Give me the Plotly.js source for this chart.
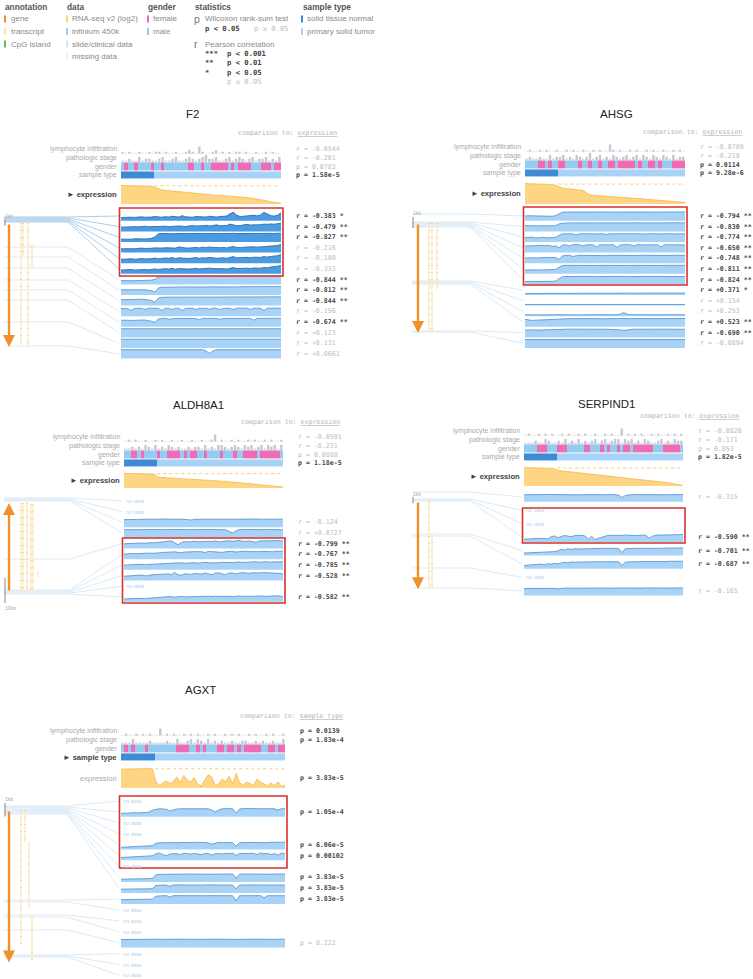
<!DOCTYPE html>
<html><head><meta charset="utf-8">
<script src="https://cdn.plot.ly/plotly-3.0.1.min.js"></script>
<style>html,body{margin:0;padding:0;background:#fff}#chart{width:753px;height:979px}</style>
</head><body><div id="chart"></div>
<script>
const W=753,H=979,NS=48;
// ---------- shared data ----------
const sampleType=[0,0,0,0,0,0,0,0,0,0, 1,1,1,1,1,1,1,1,1,1, 1,1,1,1,1,1,1,1,1,1, 1,1,1,1,1,1,1,1,1,1, 1,1,1,1,1,1,1,1];
// ---------- F2 ----------
const f2Gender=[0,1,0,0,1,0,0,0,0,1, 0,0,1,0,0,0,0,0,0,0, 1,1,0,0,1,0,0,1,1,1, 1,1,0,1,0,1,1,1,1,0, 0,0,1,1,1,0,1,1];
const f2Lymph=[1,0,1,0,0,1,0,0,1,0, 1,1,0,1,0,0,1,0,0,1, 2,1,0,4,1,0,0,1,2,0, 1,0,1,0,1,1,0,1,0,0, 1,0,0,1,0,1,0,0];
const f2Stage=[1,1,2,1,1,3,1,2,2,1, 1,2,3,1,1,2,3,1,1,2, 3,2,1,2,3,4,2,2,3,1, 1,2,3,1,2,3,2,1,2,3, 1,2,2,3,1,2,1,3];
const f2Expr=[1.00,1.00,0.99,0.99,0.99,0.98,0.98,0.98,0.97,0.97, 0.90,0.83,0.77,0.74,0.72,0.70,0.68,0.66,0.64,0.62, 0.60,0.58,0.56,0.55,0.53,0.52,0.50,0.49,0.48,0.47, 0.46,0.45,0.43,0.42,0.41,0.39,0.37,0.35,0.33,0.30, 0.27,0.24,0.20,0.15,0.12,0.10,0.07,0.04];
const f2HeadStats=['r = -0.0544','r = -0.201','p = 0.0783','p = 1.58e-5'];
const f2Meth=[
[35,38,40,38,36,40,42,38,36,40, 45,40,38,44,40,48,42,40,55,42, 40,38,45,42,44,40,48,42,40,45, 44,50,75,92,60,45,48,50,55,60, 52,62,90,70,55,50,60,85],
[45,48,50,52,50,48,52,55,50,52, 55,58,52,55,50,55,60,58,55,52, 58,62,58,55,60,65,58,62,70,60, 58,62,78,65,60,62,70,75,68,65, 70,72,78,75,80,76,78,88],
[30,28,32,30,35,33,30,32,35,40, 55,88,90,92,90,88,90,92,90,91, 90,92,90,89,91,90,92,90,91,90, 92,91,90,92,90,91,92,90,91,92, 91,90,92,93,92,91,92,94],
[40,42,45,42,40,45,48,44,42,46, 50,45,48,52,50,55,48,60,52,50, 48,52,55,50,58,52,60,55,50,52, 55,50,58,65,55,52,58,60,55,62, 58,60,65,62,68,70,75,90],
[42,40,44,48,42,45,50,46,44,48, 55,48,50,56,52,60,50,58,55,52, 50,55,60,52,58,55,62,58,52,55, 58,52,60,70,58,55,60,62,58,64, 60,62,70,65,72,75,80,92],
[40,44,42,46,40,44,48,45,42,46, 52,46,50,55,50,58,48,56,54,50, 50,54,58,52,56,52,60,56,52,54, 56,50,58,66,56,54,58,60,56,62, 58,60,66,64,72,74,80,90],
[40,42,40,38,40,42,38,40,42,45, 55,80,82,84,83,85,84,85,86,84, 85,86,85,84,86,85,86,87,85,86, 87,86,85,87,86,88,86,87,88,86, 87,88,87,89,88,87,88,89],
[55,56,55,54,56,55,54,56,50,45, 30,75,82,84,85,84,86,85,86,85, 86,87,86,85,86,84,87,86,87,86, 85,86,87,86,87,88,86,87,86,88, 87,88,87,88,89,88,89,90],
[62,64,65,66,64,66,68,66,60,55, 35,80,88,90,90,89,91,90,90,91, 90,91,92,91,90,91,92,91,92,91, 92,91,90,92,91,92,91,92,93,92, 91,92,93,92,93,92,93,93],
[82,84,80,60,82,84,85,70,84,85, 83,84,60,84,85,70,85,84,60,85, 84,86,70,85,84,85,72,86,85,70, 84,86,85,70,86,85,84,86,70,85, 86,84,60,85,86,84,86,85],
[70,72,70,68,70,72,70,72,65,60, 45,85,88,90,80,88,90,89,88,90, 89,90,88,75,90,89,90,88,90,78, 90,89,90,88,89,90,91,89,90,70, 90,89,91,90,90,91,90,91],
[92,92,93,92,92,93,92,92,93,92, 93,92,93,92,93,92,93,93,92,93, 92,93,92,93,93,92,93,92,93,92, 93,93,92,93,92,93,92,93,92,93, 93,92,93,92,93,92,93,92],
[93,93,92,93,93,92,93,93,92,93, 93,93,90,93,93,92,93,93,92,93, 90,93,93,92,93,93,92,93,93,92, 93,93,92,93,93,90,93,92,93,93, 92,93,93,92,93,93,92,93],
[95,95,95,95,95,95,95,95,95,95, 95,95,95,95,95,95,95,95,95,95, 95,95,95,95,95,80,55,80,95,95, 95,95,95,95,95,95,95,95,95,95, 95,95,95,95,95,95,95,95]];
const f2Stats=['r = -0.383 *','r = -0.479 **','r = -0.827 **','r = -0.216','r = -0.189','r = -0.333','r = -0.844 **','r = -0.812 **','r = -0.844 **','r = -0.156','r = -0.674 **','r = +0.123','r = +0.131','r = +0.0661'];
const f2ProbeKb=[-0.97,-0.81,-0.65,-0.48,-0.32,-0.16,3.87,5.48,7.26,9.19,10.81,12.42,15.97,19.84];
const f2Gene={start:0,end:20,strand:1};
const f2Tx=[[0,20],[0,5.5],[0,20],[3.5,7.0]];
// ---------- AHSG ----------
const ahsgGender=[0,0,0,0,1,1,0,1,0,0, 1,1,0,0,0,0,1,0,0,1, 0,0,1,0,0,1,1,0,1,1, 1,1,1,0,1,0,0,1,1,0, 1,0,0,0,1,1,1,1];
const ahsgLymph=[0,1,0,0,1,0,1,0,0,1, 0,0,1,0,1,0,0,1,0,0, 1,0,1,0,0,4,1,0,1,0, 0,1,0,1,0,0,1,0,1,0, 0,1,0,0,1,0,1,0];
const ahsgStage=[1,2,1,1,2,1,1,3,1,2, 2,3,1,2,1,3,2,1,2,4, 1,2,3,1,2,1,3,2,1,2, 3,1,2,3,1,3,2,1,3,2, 1,3,2,1,3,1,2,2];
const ahsgExpr=[1.00,1.00,1.00,0.99,0.99,0.98,0.97,0.96,0.95,0.93, 0.84,0.78,0.76,0.75,0.73,0.71,0.69,0.67,0.55,0.45, 0.43,0.42,0.41,0.40,0.39,0.38,0.37,0.36,0.35,0.34, 0.33,0.32,0.30,0.28,0.26,0.24,0.22,0.21,0.19,0.18, 0.17,0.16,0.15,0.14,0.12,0.10,0.09,0.08];
const ahsgHeadStats=['r = -0.0789','r = -0.219','p = 0.0114','p = 9.28e-6'];
const ahsgMeth=[
[52,55,54,52,50,48,52,50,48,55, 75,92,93,92,94,93,92,94,93,92, 93,94,93,92,93,92,93,94,93,92, 93,94,92,93,92,94,93,92,93,94, 93,92,93,94,93,92,94,93],
[62,60,62,60,58,60,62,60,58,62, 80,88,90,90,91,90,89,90,91,90, 91,90,90,89,90,91,90,90,91,90, 90,91,90,90,91,90,89,90,91,90, 90,91,90,90,91,90,90,91],
[45,48,52,45,42,50,46,44,48,50, 70,88,86,88,87,75,88,87,88,86, 88,87,88,86,80,88,87,88,87,88, 86,88,87,88,87,85,88,87,88,86, 88,87,88,86,88,87,88,87],
[70,72,75,72,74,76,75,78,65,72, 50,80,82,70,84,82,84,70,82,84, 82,60,84,82,84,82,84,55,82,84, 82,84,70,84,82,84,82,84,83,84, 60,84,82,84,82,84,82,80],
[55,58,60,58,56,60,62,60,58,60, 40,78,82,84,72,82,84,83,82,84, 83,82,84,82,80,84,83,82,84,83, 82,84,83,82,84,83,82,84,83,82, 84,83,82,84,83,82,84,83],
[40,42,40,42,40,42,40,42,44,46, 70,88,90,89,90,89,90,89,90,89, 90,89,90,89,88,90,89,90,89,90, 89,90,89,90,89,90,89,90,89,90, 89,90,89,90,89,90,89,90],
[30,32,30,32,30,32,30,32,33,35, 60,82,84,85,84,85,84,85,84,86, 85,84,85,84,85,86,85,84,85,84, 85,84,85,86,85,84,85,84,85,84, 85,84,85,84,85,84,85,84],
[15,16,15,16,17,16,15,16,17,16, 18,17,18,17,18,19,18,17,18,19, 18,19,18,19,18,19,20,19,18,19, 20,19,20,19,20,21,20,19,20,21, 20,21,20,21,20,21,22,21],
[12,12,13,12,12,13,12,12,13,12, 13,12,13,12,13,12,13,13,12,13, 12,13,12,13,13,12,13,12,13,12, 13,13,12,13,12,13,12,13,12,13, 13,12,13,12,13,12,13,12],
[15,14,16,15,14,17,15,14,16,15, 16,15,14,16,15,17,15,14,16,15, 16,15,14,16,15,17,15,16,22,38, 22,16,15,16,15,14,16,15,17,16, 15,16,15,14,16,17,16,15],
[80,70,68,70,72,70,74,78,80,82, 85,86,87,86,88,87,88,87,86,88, 87,88,87,86,88,87,88,87,88,86, 88,87,88,87,86,88,87,88,87,88, 87,88,87,88,86,88,87,88],
[78,80,79,80,78,80,82,80,82,84, 86,88,87,88,87,88,87,88,87,88, 87,88,87,88,87,88,87,86,80,75, 82,87,88,87,88,87,88,87,88,87, 88,87,88,87,88,87,88,87],
[90,90,91,90,90,91,90,90,91,90, 91,90,91,90,91,90,91,91,90,91, 90,91,90,91,91,90,91,90,91,90, 91,91,90,91,90,91,90,91,90,91, 91,90,91,90,91,90,91,90]];
const ahsgStats=['r = -0.794 **','r = -0.830 **','r = -0.774 **','r = -0.650 **','r = -0.748 **','r = -0.811 **','r = -0.824 **','r = +0.371 *','r = +0.154','r = +0.253','r = +0.523 **','r = -0.690 **','r = -0.0894'];
const ahsgProbeKb=[-0.82,-0.09,0,0.09,0.18,0.27,0.36,5.27,5.36,5.45,5.55,9.82,9.91];
const ahsgGene={start:0,end:10,strand:1};
const ahsgTx=[[0,10],[0,10],[0,6.1]];
// ---------- ALDH8A1 ----------
const aldhGender=[0,0,1,1,0,1,0,0,0,0, 1,0,0,1,1,1,1,0,1,0, 1,1,0,0,1,0,0,0,0,1, 0,0,0,1,0,0,1,1,1,1, 0,1,1,1,1,1,1,0];
const aldhLymph=[0,1,0,1,0,0,1,0,0,1, 0,1,0,0,1,0,0,1,0,0, 1,0,0,1,0,0,1,4,0,1, 0,0,1,0,1,0,0,1,0,1, 0,0,1,0,1,0,0,1];
const aldhStage=[1,1,2,1,2,1,3,2,1,3, 1,2,1,3,2,1,2,1,1,2, 1,2,2,1,3,1,2,1,3,3, 2,1,2,3,2,1,3,2,3,1, 2,3,1,3,2,3,1,3];
const aldhExpr=[0.97,0.97,0.97,0.97,0.96,0.96,0.96,0.95,0.95,0.94, 0.72,0.70,0.69,0.67,0.66,0.64,0.63,0.62,0.60,0.59, 0.58,0.56,0.55,0.54,0.52,0.51,0.50,0.48,0.47,0.45, 0.44,0.42,0.40,0.39,0.37,0.35,0.33,0.31,0.29,0.27, 0.25,0.23,0.21,0.19,0.16,0.13,0.10,0.07];
const aldhHeadStats=['r = -0.0591','r = -0.231','p = 0.0888','p = 1.18e-5'];
const aldhMeth=[null,null,
[80,82,84,82,80,84,85,84,82,80, 84,86,84,82,85,84,83,85,84,82, 76,84,85,86,85,84,85,84,83,85, 84,85,86,84,85,84,86,85,84,85, 86,84,85,86,85,84,86,84],
[86,87,88,87,88,87,88,87,88,87, 88,87,88,87,88,87,88,87,88,87, 88,87,88,87,88,87,88,87,88,87, 86,70,52,72,87,88,87,88,87,88, 87,88,87,88,87,88,87,86],
[50,52,55,53,55,58,55,60,62,60, 65,70,68,75,80,60,40,65,72,70, 74,76,72,75,78,76,72,80,70,74, 78,82,76,80,85,78,75,80,72,65, 80,82,84,80,82,84,82,80],
[55,58,56,60,58,62,60,64,62,60, 65,70,72,68,75,78,72,70,76,78, 74,76,80,78,70,82,78,80,75,72, 78,80,84,76,80,82,85,80,78,82, 80,84,82,80,78,84,86,84],
[50,52,55,52,54,58,55,57,60,62, 60,65,68,70,72,68,74,75,70,72, 74,76,70,78,80,76,72,78,74,80, 82,78,76,80,84,78,82,80,84,86, 80,84,86,82,84,88,84,86],
[45,48,52,50,55,58,52,50,60,62, 56,60,65,70,62,85,60,55,72,70, 65,75,70,68,80,72,60,78,82,70, 62,78,80,70,76,85,80,75,82,78, 80,85,84,82,80,78,75,70],
null,
[30,32,35,33,36,38,35,37,40,42, 40,45,52,56,52,50,55,58,52,55, 58,60,56,58,62,60,56,62,58,60, 62,58,55,60,62,58,62,60,58,62, 60,62,58,62,60,65,62,55]];
const aldhStats=['','','r = -0.124','r = +0.0727','r = -0.799 **','r = -0.767 **','r = -0.785 **','r = -0.528 **','','r = -0.582 **'];
const aldhProbeKb=[-2.0,-1.6,-1.2,-0.8,22.4,34.8,35.2,35.6,36.0,36.4];
const aldhGene={start:0,end:35.6,strand:-1};
const aldhTx=[[0,35.6],[0,35.2],[0,35.6],[0.5,35.6],[0.5,35.6],[27.6,30.0]];
// ---------- SERPIND1 ----------
const serpGender=[0,0,0,0,1,1,1,0,0,0, 1,1,1,0,0,0,0,0,1,1, 0,0,0,1,0,1,0,0,1,0, 1,1,0,1,1,1,1,1,1,0, 0,0,1,1,1,1,1,0];
const serpLymph=[0,1,0,0,1,0,1,0,1,0, 0,1,0,1,0,0,1,0,1,0, 0,1,0,0,1,0,1,0,0,4, 0,1,0,1,0,1,0,0,1,0, 1,0,0,1,0,1,0,1];
const serpStage=[1,1,1,2,1,1,3,2,1,1, 2,1,3,1,2,1,3,1,2,1, 2,3,1,2,3,1,2,3,3,1, 3,2,3,1,2,1,3,2,1,1, 2,3,1,2,1,3,2,2];
const serpExpr=[1.00,1.00,0.99,0.99,0.99,0.98,0.98,0.97,0.96,0.95, 0.84,0.82,0.80,0.79,0.77,0.76,0.74,0.72,0.71,0.69, 0.67,0.65,0.63,0.61,0.59,0.57,0.55,0.53,0.51,0.49, 0.47,0.45,0.43,0.41,0.39,0.37,0.35,0.33,0.31,0.28, 0.25,0.22,0.19,0.16,0.13,0.10,0.06,0.03];
const serpHeadStats=['r = -0.0820','r = -0.171','p = 0.053','p = 1.82e-5'];
const serpMeth=[
[75,74,76,75,74,76,78,77,76,75, 74,76,75,77,76,75,74,76,77,76, 75,76,77,76,75,76,77,76,70,45, 68,76,77,76,75,76,77,76,75,76, 77,76,75,76,77,76,75,76],
null,null,
[30,32,35,33,36,40,35,34,55,65, 45,60,70,62,58,68,72,70,65,30, 60,25,40,50,68,72,70,68,72,70, 75,72,70,68,72,74,72,40,62,72, 74,76,75,77,76,78,78,80],
[25,26,28,30,28,32,30,35,38,40, 48,65,55,70,62,72,68,70,72,70, 74,72,73,75,74,76,74,75,70,30, 72,74,76,75,74,76,75,77,76,75, 76,77,76,78,77,78,79,80],
[35,38,40,45,40,50,42,55,48,60, 52,62,70,65,72,70,74,72,73,75, 74,76,75,74,76,75,77,76,74,35, 72,75,76,77,76,78,77,76,78,77, 78,79,78,80,79,80,79,80],
null,
[75,76,78,77,76,78,80,79,78,77, 72,78,80,79,78,80,79,81,80,79, 80,79,81,80,82,81,80,79,81,80, 82,81,80,82,81,80,82,81,82,80, 81,82,81,80,82,81,82,81]];
const serpStats=['r = -0.315','','','r = -0.590 **','r = -0.701 **','r = -0.687 **','','r = -0.165'];
const serpProbeKb=[-1.43,-0.32,-0.16,0,5.24,5.56,10.63,13.81];
const serpGene={start:0,end:14,strand:1};
const serpTx=[[0,14],[5.4,14]];
// ---------- AGXT ----------
const agxtGender=[0,1,0,1,0,0,0,1,0,0, 0,0,0,0,0,0,1,1,1,1, 0,0,1,0,1,0,0,0,1,1, 0,1,1,0,1,0,1,1,1,1, 1,0,0,1,1,0,1,1];
const agxtLymph=[0,1,0,0,1,0,1,0,1,0, 0,4,0,1,0,1,0,0,1,0, 1,0,1,0,0,1,0,1,0,0, 1,0,1,0,1,0,0,1,0,1, 0,0,1,0,1,0,0,1];
const agxtStage=[1,1,1,3,1,1,1,1,2,1, 1,1,1,2,1,1,3,1,1,2, 3,1,3,2,1,3,1,2,1,2, 1,1,2,1,1,2,2,1,1,2, 1,2,1,1,2,1,1,3];
const agxtExpr=[0.93,0.94,0.94,0.95,0.95,0.95,0.95,0.96,0.96,0.96, 0.30,0.12,0.25,0.35,0.22,0.30,0.55,0.28,0.62,0.40, 0.30,0.52,0.18,0.10,0.40,0.65,0.55,0.12,0.20,0.45, 0.30,0.58,0.20,0.72,0.25,0.15,0.30,0.22,0.12,0.45, 0.30,0.20,0.12,0.25,0.10,0.30,0.08,0.15];
const agxtHeadStats=['p = 0.0139','p = 1.83e-4','',''];
const agxtExprStat='p = 3.83e-5';
const agxtMeth=[null,
[35,38,36,40,42,40,45,42,48,70, 80,85,82,80,60,75,82,84,85,84, 86,85,84,85,86,84,70,50,72,84, 86,85,84,40,82,86,85,84,86,85, 84,86,85,82,84,70,86,84],
null,null,
[22,25,28,24,30,32,35,36,38,40, 65,70,72,68,74,72,70,76,74,72, 70,74,76,74,72,70,55,65,74,72, 70,74,72,35,70,72,74,76,74,72, 70,74,72,76,74,72,76,78],
[30,32,35,30,36,38,40,42,45,48, 70,78,60,50,65,72,70,62,75,72, 65,74,70,60,72,75,55,70,72,65, 75,70,78,50,72,74,76,72,74,60, 78,70,74,60,72,55,78,70],
null,
[30,32,30,33,32,35,34,36,35,40, 78,85,84,82,86,85,84,86,85,84, 86,85,84,86,85,84,86,85,84,86, 85,84,86,40,84,86,85,84,86,85, 84,86,85,84,86,85,84,86],
[40,42,41,43,42,44,43,45,44,46, 80,86,85,84,70,86,85,84,86,85, 84,86,85,84,86,85,84,86,85,84, 86,85,84,45,85,84,86,85,84,86, 85,84,86,85,84,86,85,84],
[45,46,45,47,46,48,47,46,48,50, 82,88,87,88,72,88,87,88,87,88, 87,88,87,88,87,88,87,88,87,88, 87,88,87,30,88,87,88,87,88,87, 88,65,88,87,88,87,88,87],
null,null,null,
[85,86,85,86,87,86,85,86,87,86, 88,87,88,87,88,87,86,88,87,88, 87,88,87,88,87,88,87,88,87,88, 87,86,84,87,88,87,88,87,88,87, 88,87,88,87,88,87,88,87],
null,null,null];
const agxtStats=['','p = 1.05e-4','','','p = 6.06e-5','p = 0.00102','','p = 3.83e-5','p = 3.83e-5','p = 3.83e-5','','','','p = 0.222','','',''];
const agxtProbeKb=[-0.30,-0.22,-0.15,-0.07,0,0.07,0.15,0.22,0.30,6.67,6.81,7.78,7.93,8.89,10.74,10.81,10.89];
const agxtGene={start:0,end:11.3,strand:1};
const agxtTx=[[0,10],[0,2.4],[2.4,7.2],[7.9,11.3]];

// ---------- styling ----------
const FONT='Liberation Sans, Arial, sans-serif', MONO='DejaVu Sans Mono, monospace';
const C={gene:'#f0922b',tx:'#f7c965',txLight:'#fcebc2',cpg:'#5cbf4a',exprFill:'#fdd583',exprLine:'#f4b84c',
 mFill:'#a9d3f6',mLine:'#5b98d0',mDarkFill:'#4b9be3',mDarkLine:'#2d6db0',conn:'#d3e5f3',connDark:'#97c2e6',
 male:'#93cbf1',female:'#ee6cb5',normal:'#3e8ad5',tumor:'#a7d3f6',bar:'#c4c8d0',barLight:'#e2e5ea',box:'#d7312c'};

const traces=[],shapes=[],annotations=[];
const layout={width:W,height:H,margin:{l:0,r:0,t:0,b:0},paper_bgcolor:'#fff',plot_bgcolor:'rgba(0,0,0,0)',
 showlegend:false,barmode:'overlay',hovermode:false};
let axN=0;
function newAxes(L,R,T,B,xr,yr){
  axN++; const s=axN===1?'':String(axN);
  layout['xaxis'+s]={domain:[L/W,R/W],range:xr,visible:false,fixedrange:true,anchor:'y'+s};
  layout['yaxis'+s]={domain:[1-B/H,1-T/H],range:yr,visible:false,fixedrange:true,anchor:'x'+s};
  return {x:'x'+s,y:'y'+s};
}
function txt(x,y,text,font,o){annotations.push(Object.assign({x:x/W,y:1-y/H,xref:'paper',yref:'paper',text:text,showarrow:false,
  xanchor:'left',yanchor:'middle',borderpad:0,font:font},o||{}));}
function prect(x0,y0,x1,y1,color){shapes.push({type:'rect',xref:'paper',yref:'paper',x0:x0/W,x1:x1/W,y0:1-y1/H,y1:1-y0/H,fillcolor:color,line:{width:0}});}
function isSig(s){if(!s)return false; if(s[0]==='r')return s.indexOf('*')>=0; return parseFloat(s.split('=')[1])<0.05;}
function statFont(s){return {family:MONO,size:6.6,color:isSig(s)?'#444':'#bbb'};}
function statText(s){return isSig(s)?'<b>'+s+'</b>':s;}

// ---------- legend ----------
const LH={family:FONT,size:8.3,color:'#555'}, LI={family:FONT,size:8,color:'#8a8a8a'};
txt(4,7,'<b>annotation</b>',LH); txt(66,7,'<b>data</b>',LH); txt(147,7,'<b>gender</b>',LH);
txt(194,7,'<b>statistics</b>',LH); txt(302,7,'<b>sample type</b>',LH);
const legA=[['gene',C.gene],['transcript','#fbe3a8'],['CpG island',C.cpg]];
legA.forEach((it,k)=>{prect(4,15.5+k*12.5,6,22.5+k*12.5,it[1]); txt(10,19+k*12.5,it[0],LI);});
const legD=[['RNA-seq v2 (log2)','#fcd27d'],['infinium 450k','#a6d0f2'],['slide/clinical data','#d3e3f2'],['missing data','#f3f4f6']];
legD.forEach((it,k)=>{prect(66,15.5+k*12.5,68,22.5+k*12.5,it[1]); txt(71,19+k*12.5,it[0],LI);});
const legG=[['female',C.female],['male',C.male]];
legG.forEach((it,k)=>{prect(147,15.5+k*12.5,149,22.5+k*12.5,it[1]); txt(152,19+k*12.5,it[0],LI);});
const legS=[['solid tissue normal',C.normal],['primary solid tumor',C.tumor]];
legS.forEach((it,k)=>{prect(301,15.5+k*12.5,303,22.5+k*12.5,it[1]); txt(306,19+k*12.5,it[0],LI);});
const LM={family:MONO,size:7.2,color:'#444'}, LMg={family:MONO,size:7.2,color:'#c0c0c0'};
txt(193,19,'p',{family:FONT,size:10.5,color:'#777'}); txt(204,19,'Wilcoxon rank-sum test',LI);
txt(204,29,'<b>p < 0.05</b>',LM); txt(253,29,'p ≥ 0.05',LMg);
txt(193,44,'r',{family:FONT,size:10.5,color:'#777'}); txt(204,44,'Pearson correlation',LI);
[['***','p < 0.001'],['**','p < 0.01'],['*','p < 0.05']].forEach((r,k)=>{txt(204,53.5+k*9.3,'<b>'+r[0]+'</b>',LM); txt(226,53.5+k*9.3,'<b>'+r[1]+'</b>',LM);});
txt(226,81.5,'p ≥ 0.05',LMg);

// ---------- panels ----------
function addPanel(g,d){
  const cw=(g.trackR-g.trackL)/NS;
  const xi=d.gender.map((_,i)=>i);
  const xs=d.expr.map((_,i)=>-0.5+i*NS/(NS-1));
  txt(g.title[0],g.title[1],d.name,{family:FONT,size:11.5,color:'#222'},{xanchor:'center'});
  txt(g.cmp[0],g.cmp[1],'comparison to: <u>'+d.cmp+'</u>',{family:MONO,size:6.6,color:'#b3b3b3'},{xanchor:'right'});
  const hB=g.headTop+4*g.headRowH;
  const h=newAxes(g.trackL,g.trackR,g.headTop,hB,[-0.5,NS-0.5],[4,0]);
  traces.push({type:'bar',xaxis:h.x,yaxis:h.y,x:xi,base:xi.map(()=>1),y:d.lymph.map(v=>v>0?-v*0.21:-0.12),width:0.72,
    marker:{color:d.lymph.map(v=>v>0?C.bar:C.barLight),line:{width:0}}});
  traces.push({type:'bar',xaxis:h.x,yaxis:h.y,x:xi,base:xi.map(()=>2),y:d.stage.map(v=>-v*0.21),width:0.72,
    marker:{color:d.stage.map(v=>v>1?C.bar:'#d6d9df'),line:{width:0}}});
  traces.push({type:'heatmap',xaxis:h.x,yaxis:h.y,x:xi,y:[2.5,3.5],z:[d.gender,sampleType.map(v=>v+2)],zmin:0,zmax:3,ygap:1,
    showscale:false,colorscale:[[0,C.male],[0.2,C.male],[0.2,C.female],[0.5,C.female],[0.5,C.normal],[0.8,C.normal],[0.8,C.tumor],[1,C.tumor]]});
  const labs=['lymphocyte infiltration','pathologic stage','gender','sample type'];
  const LF={family:FONT,size:7,color:'#aaa'};
  labs.forEach((l,k)=>{
    const yy=g.headTop+(k+0.5)*g.headRowH;
    if(k===3&&d.cmp==='sample type') txt(g.trackL-3,yy+0.5,'<b>► sample type</b>',{family:FONT,size:7.6,color:'#444'},{xanchor:'right'});
    else txt(g.trackL-3,yy,l,LF,{xanchor:'right'});
    if(d.head[k]) txt(g.statX,yy,statText(d.head[k]),statFont(d.head[k]));
  });
  const emax=Math.max.apply(null,d.expr);
  const e=newAxes(g.trackL,g.trackR,g.expr[0],g.expr[1],[-0.5,NS-0.5],[0,emax*1.03]);
  traces.push({type:'scatter',mode:'lines',xaxis:e.x,yaxis:e.y,x:xs,y:d.expr,fill:'tozeroy',fillcolor:C.exprFill,line:{color:C.exprLine,width:0.8}});
  const normVals=d.expr.filter((v,i)=>sampleType[i]===0);
  const nm=normVals.reduce((a,b)=>a+b,0)/normVals.length;
  const nN=normVals.length;
  traces.push({type:'scatter',mode:'lines',xaxis:e.x,yaxis:e.y,x:[nN-0.5,NS-0.5],y:[nm,nm],line:{color:'#f7c865',width:0.9,dash:'3px,3px'}});
  const ey=(g.expr[0]+g.expr[1])/2;
  if(d.cmp==='expression') txt(g.trackL-3,ey,'<b>► expression</b>',{family:FONT,size:7.6,color:'#444'},{xanchor:'right'});
  else txt(g.trackL-3,ey,'expression',{family:FONT,size:7.6,color:'#aaa'},{xanchor:'right'});
  if(d.exprStat) txt(g.statX,ey,statText(d.exprStat),statFont(d.exprStat));
  const N=d.meth.length, rowTop=g.c0-g.rowH/2;
  const bT=rowTop-18, bB=Math.min(rowTop+N*g.rowH+18,H-1);
  const bL=Math.max(g.gLeft-3,0), bR=g.trackR+6;
  const bx=px=>-0.5+(px-g.trackL)/cw;
  const by=py=>(py-rowTop)/g.rowH;
  const gy=kb=>by(g.gTop+kb*g.ppk);
  const b=newAxes(bL,bR,bT,bB,[bx(bL),bx(bR)],[by(bB),by(bT)]);
  const cx=[],cy=[],dx=[],dy=[];
  d.probeKb.forEach((kb,i)=>{
    const dark=g.dark&&i>=g.boxRows[0]&&i<=g.boxRows[1];
    const X=dark?dx:cx, Y=dark?dy:cy;
    X.push(bx(g.gLeft),bx(g.bend),bx(g.trackL-2),null); Y.push(gy(kb),gy(kb),i+0.5,null);
  });
  traces.push({type:'scatter',mode:'lines',xaxis:b.x,yaxis:b.y,x:cx,y:cy,line:{color:C.conn,width:0.8}});
  if(dx.length) traces.push({type:'scatter',mode:'lines',xaxis:b.x,yaxis:b.y,x:dx,y:dy,line:{color:C.connDark,width:0.8}});
  const tx=[],ty=[];
  d.tx.forEach((t,k)=>{tx.push(bx(g.lanes[k]),bx(g.lanes[k]),null); ty.push(gy(t[0]),gy(t[1]),null);});
  traces.push({type:'scatter',mode:'lines',xaxis:b.x,yaxis:b.y,x:tx,y:ty,line:{color:C.txLight,width:1.2}});
  traces.push({type:'scatter',mode:'lines',xaxis:b.x,yaxis:b.y,x:tx,y:ty,line:{color:C.tx,width:1.2,dash:'1px,6px'}});
  const head=d.gene.strand>0?d.gene.end:d.gene.start, tail=d.gene.strand>0?d.gene.start:d.gene.end;
  annotations.push({xref:b.x,yref:b.y,axref:b.x,ayref:b.y,x:bx(g.geneX),y:gy(head),ax:bx(g.geneX),ay:gy(tail),
    text:'',showarrow:true,arrowhead:2,arrowsize:1,arrowwidth:2.4,arrowcolor:C.gene,standoff:0,startstandoff:0});
  traces.push({type:'scatter',mode:'lines',xaxis:b.x,yaxis:b.y,x:[bx(g.gLeft+1),bx(g.gLeft+1)],y:[gy(g.sc0),gy(g.sc0+d.scaleKb)],line:{color:'#888',width:1}});
  const scTop=g.gTop+g.sc0*g.ppk, scBot=g.gTop+(g.sc0+d.scaleKb)*g.ppk;
  txt(g.gLeft,g.scBelow?scBot+4.5:scTop-3.5,d.scaleLabel,{family:FONT,size:5,color:'#aaa'});
  d.meth.forEach((vals,i)=>{
    const cyPx=g.c0+i*g.rowH;
    if(!vals){ txt(g.trackL+1,cyPx,'no data',{family:FONT,size:5.5,color:'#b9d3ea'}); return; }
    const base=i+0.5+4.8/g.rowH, hm=9.4/g.rowH;
    const top=vals.map(v=>base-v/100*hm);
    const dark=g.dark&&i>=g.boxRows[0]&&i<=g.boxRows[1];
    traces.push({type:'scatter',mode:'lines',xaxis:b.x,yaxis:b.y,x:xs.concat(xs.slice().reverse()),y:top.concat(xs.map(()=>base)),
      fill:'toself',fillcolor:dark?C.mDarkFill:C.mFill,line:{width:0}});
    traces.push({type:'scatter',mode:'lines',xaxis:b.x,yaxis:b.y,x:xs,y:top,line:{color:dark?C.mDarkLine:C.mLine,width:0.9}});
    if(d.stats[i]) txt(g.statX,cyPx,statText(d.stats[i]),statFont(d.stats[i]));
  });
  shapes.push({type:'rect',xref:b.x,yref:b.y,x0:bx(g.trackL-1.5),x1:bx(g.trackR+2),y0:by(g.boxY[0]),y1:by(g.boxY[1]),
    line:{color:C.box,width:1.6},fillcolor:'rgba(0,0,0,0)'});
}

addPanel({trackL:121,trackR:281,gLeft:4,bend:68,geneX:9,lanes:[21,23,28,32],gTop:223,ppk:6.2,sc0:-0.55,
  headTop:145,headRowH:8.7,expr:[185,204],c0:216,rowH:10.6,statX:295,title:[192,114],cmp:[338,133],
  boxRows:[0,5],boxY:[208,276],dark:true},
 {name:'F2',cmp:'expression',gender:f2Gender,lymph:f2Lymph,stage:f2Stage,expr:f2Expr,head:f2HeadStats,meth:f2Meth,
  stats:f2Stats,probeKb:f2ProbeKb,gene:f2Gene,tx:f2Tx,scaleKb:1,scaleLabel:'1kb'});
addPanel({trackL:525,trackR:685,gLeft:412,bend:470,geneX:418,lanes:[429,432,437],gTop:223,ppk:11,sc0:-0.55,
  headTop:143,headRowH:8.7,expr:[183,204],c0:216,rowH:10.6,statX:699,title:[616,114],cmp:[743,132],
  boxRows:[0,6],boxY:[207,285],dark:false},
 {name:'AHSG',cmp:'expression',gender:ahsgGender,lymph:ahsgLymph,stage:ahsgStage,expr:ahsgExpr,head:ahsgHeadStats,meth:ahsgMeth,
  stats:ahsgStats,probeKb:ahsgProbeKb,gene:ahsgGene,tx:ahsgTx,scaleKb:1,scaleLabel:'1kb'});
addPanel({trackL:124,trackR:283,gLeft:4,bend:70,geneX:9,lanes:[21,23,27,31,33,38],gTop:503,ppk:2.5,sc0:30,scBelow:true,
  headTop:433,headRowH:8.7,expr:[473,488],c0:501,rowH:10.67,statX:297,title:[198,405],cmp:[341,422],
  boxRows:[4,9],boxY:[538,603],dark:false},
 {name:'ALDH8A1',cmp:'expression',gender:aldhGender,lymph:aldhLymph,stage:aldhStage,expr:aldhExpr,head:aldhHeadStats,meth:aldhMeth,
  stats:aldhStats,probeKb:aldhProbeKb,gene:aldhGene,tx:aldhTx,scaleKb:10,scaleLabel:'10kb'});
addPanel({trackL:524,trackR:683,gLeft:412,bend:470,geneX:418,lanes:[429,432],gTop:501,ppk:6.3,sc0:-0.63,
  headTop:427,headRowH:8.7,expr:[467,486],c0:497,rowH:13.4,statX:697,title:[607,404],cmp:[740,416],
  boxRows:[1,3],boxY:[508,543],dark:false},
 {name:'SERPIND1',cmp:'expression',gender:serpGender,lymph:serpLymph,stage:serpStage,expr:serpExpr,head:serpHeadStats,meth:serpMeth,
  stats:serpStats,probeKb:serpProbeKb,gene:serpGene,tx:serpTx,scaleKb:1,scaleLabel:'1kb'});
addPanel({trackL:121,trackR:285,gLeft:4,bend:67,geneX:9,lanes:[21,25,29,32],gTop:810,ppk:13.5,sc0:-0.52,
  headTop:727,headRowH:8.7,expr:[768,788],c0:801,rowH:10.9,statX:299,title:[200,690],cmp:[344,716],
  boxRows:[0,6],boxY:[796,868],dark:false},
 {name:'AGXT',cmp:'sample type',gender:agxtGender,lymph:agxtLymph,stage:agxtStage,expr:agxtExpr,head:agxtHeadStats,exprStat:agxtExprStat,
  meth:agxtMeth,stats:agxtStats,probeKb:agxtProbeKb,gene:agxtGene,tx:agxtTx,scaleKb:1,scaleLabel:'1kb'});

layout.shapes=shapes; layout.annotations=annotations;
Plotly.newPlot('chart',traces,layout,{staticPlot:true,displayModeBar:false});
</script></body></html>
